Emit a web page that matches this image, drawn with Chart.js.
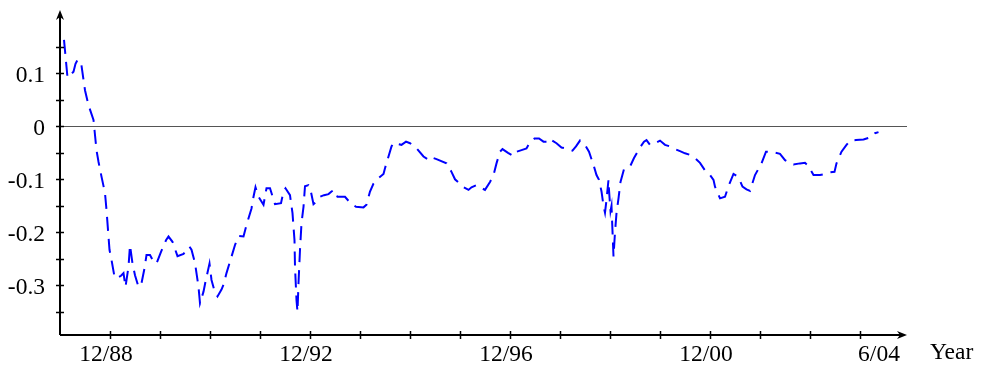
<!DOCTYPE html>
<html>
<head>
<meta charset="utf-8">
<script src="https://cdn.jsdelivr.net/npm/chart.js@4.4.1/dist/chart.umd.min.js"></script>
<style>
  html, body { margin: 0; padding: 0; background: #ffffff; }
  canvas { display: block; }
</style>
</head>
<body>
<canvas id="c" width="981" height="365"></canvas>
<script>
// ---- data (decimal years) ----
const dates = [
  1988.08,1988.15,1988.21,1988.27,1988.31,1988.35,1988.42,1988.50,1988.57,1988.67,
  1988.69,1988.73,1988.77,1988.83,1988.90,1988.93,1988.97,1988.99,1989.03,1989.09,
  1989.13,1989.22,1989.27,1989.31,1989.37,1989.40,1989.45,1989.50,1989.57,1989.63,
  1989.69,1989.73,1989.80,1989.87,1989.93,1990.02,1990.12,1990.17,1990.25,1990.35,
  1990.47,1990.53,1990.59,1990.63,1990.70,1990.77,1990.80,1990.87,1990.91,1990.99,
  1991.03,1991.10,1991.15,1991.23,1991.27,1991.33,1991.43,1991.50,1991.57,1991.67,
  1991.73,1991.83,1991.87,1991.91,1991.97,1992.07,1992.13,1992.20,1992.30,1992.42,
  1992.47,1992.51,1992.60,1992.65,1992.69,1992.70,1992.73,1992.75,1992.77,1992.80,
  1992.83,1992.87,1992.90,1992.97,1993.00,1993.07,1993.13,1993.20,1993.28,1993.37,
  1993.43,1993.48,1993.55,1993.70,1993.80,1993.92,1994.07,1994.13,1994.20,1994.27,
  1994.37,1994.47,1994.50,1994.57,1994.63,1994.67,1994.74,1994.83,1994.92,1995.00,
  1995.10,1995.27,1995.40,1995.47,1995.53,1995.73,1995.83,1995.90,1996.07,1996.17,
  1996.23,1996.33,1996.42,1996.50,1996.60,1996.67,1996.73,1996.80,1996.85,1996.96,
  1997.07,1997.13,1997.23,1997.33,1997.37,1997.49,1997.58,1997.67,1997.73,1997.78,
  1997.93,1998.03,1998.17,1998.25,1998.32,1998.40,1998.50,1998.58,1998.67,1998.73,
  1998.78,1998.83,1998.87,1998.90,1998.93,1998.97,1998.98,1999.01,1999.03,1999.07,
  1999.10,1999.13,1999.17,1999.21,1999.28,1999.37,1999.41,1999.48,1999.60,1999.68,
  1999.73,1999.80,1999.90,2000.00,2000.10,2000.20,2000.30,2000.40,2000.50,2000.60,
  2000.70,2000.80,2000.92,2001.00,2001.07,2001.10,2001.20,2001.30,2001.37,2001.47,
  2001.57,2001.65,2001.73,2001.80,2001.90,2002.03,2002.12,2002.22,2002.40,2002.50,
  2002.67,2002.80,2002.90,2002.97,2003.07,2003.20,2003.30,2003.40,2003.49,2003.53,
  2003.63,2003.73,2003.80,2003.92,2004.07,2004.23,2004.30,2004.37
];
const values = [
  0.163,0.092,0.097,0.103,0.118,0.125,0.121,0.068,0.040,0.012,
  -0.007,-0.045,-0.067,-0.095,-0.126,-0.158,-0.208,-0.233,-0.252,-0.284,
  -0.287,-0.282,-0.277,-0.303,-0.265,-0.224,-0.259,-0.281,-0.303,-0.296,
  -0.268,-0.243,-0.243,-0.255,-0.259,-0.237,-0.215,-0.208,-0.218,-0.245,
  -0.241,-0.233,-0.227,-0.233,-0.258,-0.303,-0.334,-0.312,-0.293,-0.259,
  -0.290,-0.314,-0.321,-0.308,-0.299,-0.277,-0.246,-0.224,-0.207,-0.208,
  -0.186,-0.155,-0.133,-0.115,-0.133,-0.148,-0.117,-0.117,-0.147,-0.145,
  -0.123,-0.117,-0.130,-0.164,-0.215,-0.265,-0.328,-0.350,-0.296,-0.233,
  -0.183,-0.152,-0.113,-0.111,-0.115,-0.147,-0.142,-0.133,-0.130,-0.128,
  -0.123,-0.120,-0.133,-0.133,-0.144,-0.152,-0.153,-0.148,-0.123,-0.108,
  -0.098,-0.090,-0.079,-0.057,-0.038,-0.031,-0.033,-0.035,-0.029,-0.032,
  -0.038,-0.057,-0.065,-0.060,-0.062,-0.070,-0.086,-0.100,-0.115,-0.120,
  -0.115,-0.111,-0.116,-0.120,-0.105,-0.092,-0.070,-0.048,-0.043,-0.050,
  -0.056,-0.048,-0.045,-0.042,-0.035,-0.023,-0.023,-0.029,-0.029,-0.023,
  -0.032,-0.040,-0.043,-0.046,-0.038,-0.027,-0.035,-0.048,-0.073,-0.092,
  -0.101,-0.123,-0.150,-0.163,-0.139,-0.101,-0.120,-0.160,-0.150,-0.246,
  -0.200,-0.164,-0.136,-0.105,-0.081,-0.075,-0.074,-0.060,-0.040,-0.029,
  -0.026,-0.035,-0.032,-0.027,-0.035,-0.038,-0.043,-0.047,-0.051,-0.054,
  -0.060,-0.069,-0.086,-0.092,-0.101,-0.114,-0.136,-0.133,-0.113,-0.090,
  -0.096,-0.114,-0.119,-0.122,-0.092,-0.070,-0.048,-0.048,-0.052,-0.064,
  -0.072,-0.070,-0.069,-0.075,-0.092,-0.092,-0.090,-0.087,-0.086,-0.070,
  -0.048,-0.035,-0.027,-0.026,-0.025,-0.020,-0.013,-0.011
];
const xLabelPositions = [1989, 1993, 1997, 2001, 2004.46];
const xTickLabels = ["12/88", "12/92", "12/96", "12/00", "6/04"];
const xTickMarks = [1989,1990,1991,1992,1993,1994,1995,1996,1997,1998,1999,2000,2001,2002,2003,2004];
const yTickValues = [0.1, 0, -0.1, -0.2, -0.3];
const yTickLabels = ["0.1", "0", "-0.1", "-0.2", "-0.3"];
const yTickMarks = [0.15, 0.1, 0.05, 0, -0.05, -0.1, -0.15, -0.2, -0.25, -0.3, -0.35];
const referenceLevel = 0;
const xAxisTitle = "Year";

const points = dates.map((d, i) => ({ x: d, y: values[i] }));
const FONT = "'Liberation Serif', 'Times New Roman', serif";
const FONT_SIZE = 23.5;

const axesPlugin = {
  id: 'axesPlugin',
  beforeDatasetsDraw(chart) {
    const { ctx, chartArea, scales } = chart;
    const y0 = Math.round(scales.y.getPixelForValue(referenceLevel)) + 0.5;
    ctx.save();
    ctx.strokeStyle = '#555555';
    ctx.lineWidth = 1.2;
    ctx.beginPath();
    ctx.moveTo(chartArea.left, y0);
    ctx.lineTo(chartArea.right, y0);
    ctx.stroke();
    ctx.restore();
  },
  afterDraw(chart) {
    const { ctx, chartArea, scales } = chart;
    const L = chartArea.left, R = chartArea.right, T = chartArea.top, B = chartArea.bottom;
    ctx.save();
    ctx.strokeStyle = '#000000';
    ctx.fillStyle = '#000000';
    ctx.lineWidth = 2;
    // axes
    ctx.beginPath();
    ctx.moveTo(L, B); ctx.lineTo(R - 4, B);
    ctx.moveTo(L, B); ctx.lineTo(L, T + 4);
    ctx.stroke();
    // arrows
    ctx.beginPath();
    ctx.moveTo(R, B); ctx.lineTo(R - 10, B - 4); ctx.lineTo(R - 7, B); ctx.lineTo(R - 10, B + 4); ctx.closePath();
    ctx.fill();
    ctx.beginPath();
    ctx.moveTo(L, T); ctx.lineTo(L - 4, T + 10); ctx.lineTo(L, T + 7); ctx.lineTo(L + 4, T + 10); ctx.closePath();
    ctx.fill();
    // tick marks
    ctx.lineWidth = 1.5;
    ctx.beginPath();
    xTickMarks.forEach(v => {
      const px = Math.round(scales.x.getPixelForValue(v)) + 0.5;
      ctx.moveTo(px, B - 4); ctx.lineTo(px, B + 4);
    });
    yTickMarks.forEach(v => {
      const py = Math.round(scales.y.getPixelForValue(v)) + 0.5;
      ctx.moveTo(L - 4, py); ctx.lineTo(L + 4, py);
    });
    ctx.stroke();
    // axis title
    ctx.font = FONT_SIZE + 'px ' + FONT;
    ctx.textAlign = 'left';
    ctx.textBaseline = 'alphabetic';
    ctx.fillText(xAxisTitle, R + 23, B + 24);
    ctx.restore();
  }
};

new Chart(document.getElementById('c'), {
  type: 'line',
  data: {
    datasets: [{
      data: points,
      borderColor: '#0000ff',
      borderWidth: 2,
      borderDash: [14, 8],
      pointRadius: 0,
      tension: 0,
      fill: false
    }]
  },
  options: {
    responsive: false,
    animation: false,
    devicePixelRatio: 1,
    layout: { padding: { top: 10, right: 74, bottom: 0, left: 0 } },
    plugins: { legend: { display: false }, tooltip: { enabled: false } },
    scales: {
      x: {
        type: 'linear',
        min: 1988,
        max: 2004.94,
        grid: { display: false, drawTicks: false },
        border: { display: false },
        afterFit(s) { s.height = 30; s.paddingLeft = 0; s.paddingRight = 0; },
        afterBuildTicks(s) { s.ticks = xLabelPositions.map(v => ({ value: v })); },
        ticks: {
          autoSkip: false,
          maxRotation: 0,
          padding: 6,
          labelOffset: -4,
          color: '#000000',
          font: { family: FONT, size: FONT_SIZE },
          callback: (v, i) => xTickLabels[i]
        }
      },
      y: {
        type: 'linear',
        min: -0.3938,
        max: 0.2194,
        grid: { display: false, drawTicks: false },
        border: { display: false },
        afterFit(s) { s.width = 60; s.paddingTop = 0; s.paddingBottom = 0; },
        afterBuildTicks(s) { s.ticks = yTickValues.map(v => ({ value: v })); },
        ticks: {
          autoSkip: false,
          padding: 15,
          labelOffset: 3,
          color: '#000000',
          font: { family: FONT, size: FONT_SIZE },
          callback: (v, i) => yTickLabels[i]
        }
      }
    }
  },
  plugins: [axesPlugin]
});
</script>
</body>
</html>
